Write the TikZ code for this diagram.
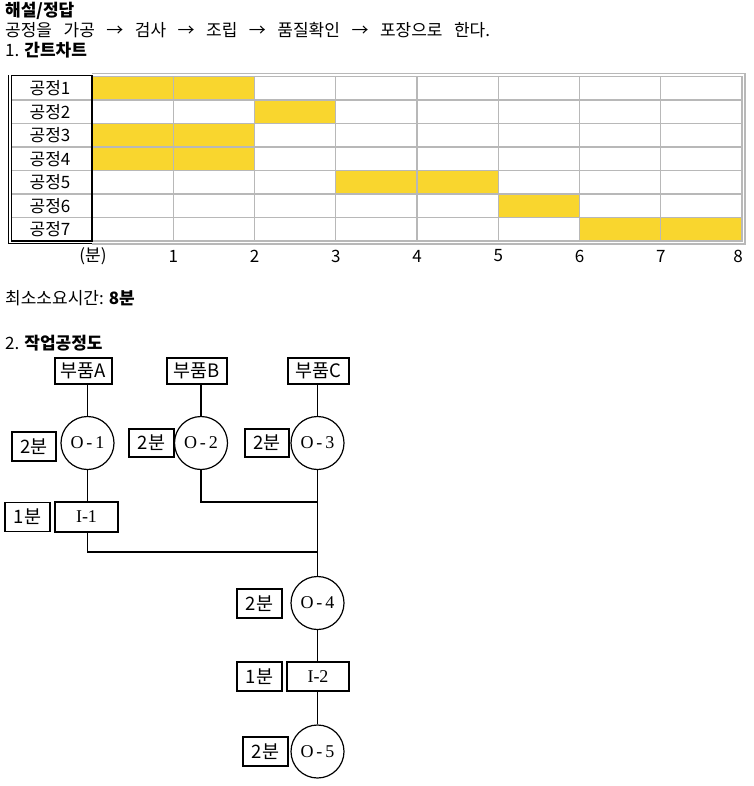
\documentclass[tikz,border=0pt]{standalone}
\usepackage{fontspec}
\setmainfont{Noto Sans CJK KR}
\newfontfamily\opfont{Liberation Serif}
\usetikzlibrary{positioning}
\definecolor{barfill}{RGB}{249,214,46}
\definecolor{gridgray}{RGB}{184,184,184}

\begin{document}
\begin{tikzpicture}[
    x=1pt, y=-1pt,
    font=\fontsize{17}{19}\selectfont,
    txt/.style={inner sep=0pt, anchor=west},
    part/.style={draw, line width=1.2pt, inner sep=0pt, minimum height=26pt,
      font=\fontsize{18.5}{19}\selectfont},
    op/.style={circle, draw, line width=1.2pt, minimum size=53pt, inner sep=0pt,
      font=\opfont\fontsize{18}{19}\selectfont},
    insp/.style={draw, line width=1.2pt, inner sep=0pt, minimum width=62pt, minimum height=29pt,
      font=\opfont\fontsize{18}{19}\selectfont},
    tbox/.style={draw, line width=1.2pt, inner sep=0pt, minimum width=45pt, minimum height=28pt,
      font=\fontsize{18.5}{19}\selectfont},
    link/.style={line width=1.2pt}
  ]
  \useasboundingbox (0,0) rectangle (753,786);

  % header
  \node[txt] (title) at (5,11) {\textbf{해설/정답}};
  \node[txt] (order) at (5,30) {\spaceskip=11.5pt 공정을 가공 → 검사 → 조립 → 품질확인 → 포장으로 한다.};
  \node[txt] (head1) at (5,50) {1. \textbf{간트차트}};

  % gantt bars
  \foreach \r/\c in {1/1,1/2,2/3,3/1,3/2,4/1,4/2,5/4,5/5,6/6,7/7,7/8}
    \fill[barfill] ({92+(\c-1)*81.25},{76.5+(\r-1)*23.5}) rectangle ++(81.25,23.5);

  % grid
  \foreach \r in {1,...,6}
    \draw[gridgray, line width=1.2pt] (12,{76.5+\r*23.5}) -- (742,{76.5+\r*23.5});
  \foreach \c in {1,...,7}
    \draw[gridgray, line width=1.2pt] ({92+\c*81.25},76.5) -- ({92+\c*81.25},241);
  \draw[gridgray, line width=1.2pt] (92,76.5) rectangle (742,241);
  \draw[gridgray, line width=1pt] (92,74) -- (745.5,74);
  \draw[gridgray, line width=2pt] (744.5,74) -- (744.5,243.5) -- (92,243.5);

  % label column
  \draw[line width=1.2pt] (11.5,75.5) rectangle (92,241);
  \draw[line width=1.5pt] (8.5,75.5) -- (8.5,243.5) -- (92,243.5);
  \foreach \r in {1,...,7}
    \node (step\r) at (50,{76.5+(\r-0.5)*23.5}) {공정\r};

  % time axis
  \node (unit) at (93,256) {(분)};
  \foreach \n in {1,...,7}
    \node (tick\n) at ({92+\n*81.25},256) {\n};
  \node (tick8) at (738,256) {8};

  \node[txt] (mintime) at (5,298) {최소소요시간: \textbf{8분}};
  \node[txt] (head2) at (5,343) {2. \textbf{작업공정도}};

  % process chart
  \node[part, minimum width=57pt] (partA) at (83.5,371) {부품A};
  \node[part, minimum width=60pt] (partB) at (197,371) {부품B};
  \node[part, minimum width=61pt] (partC) at (318.5,371) {부품C};

  \node[op] (op1) at (87.5,443) {O\,-\,1};
  \node[op] (op2) at (201,443) {O\,-\,2};
  \node[op] (op3) at (317.5,443) {O\,-\,3};
  \node[op] (op4) at (317.5,603) {O\,-\,4};
  \node[op] (op5) at (317.5,751.5) {O\,-\,5};

  \node[insp, minimum width=63pt, minimum height=30pt] (in1) at (86.5,517) {I-1};
  \node[insp] (in2) at (318,676.5) {I-2};

  \node[tbox, minimum width=44pt, minimum height=29pt] (t1) at (34,446.5) {2분};
  \node[tbox] (t2) at (151.5,443) {2분};
  \node[tbox, minimum width=44pt] (t3) at (267,443) {2분};
  \node[tbox, minimum height=29pt] (t4) at (259.5,603.5) {2분};
  \node[tbox, minimum height=29pt] (ti1) at (27.5,517) {1분};
  \node[tbox, minimum height=29pt] (ti2) at (259.5,676.5) {1분};
  \node[tbox, minimum height=29pt] (t5) at (265.5,751.5) {2분};

  \coordinate (j1) at (317.5,502);
  \coordinate (j2) at (317.5,552);

  \draw[link] (op1.north) -- (op1.north |- partA.south);
  \draw[link] (op2.north) -- (op2.north |- partB.south);
  \draw[link] (op3.north) -- (op3.north |- partC.south);
  \draw[link] (op1.south) -- (op1.south |- in1.north);
  \draw[link] (op2.south) |- (j1);
  \draw[link] (in1.south -| op1.south) |- (j2);
  \draw[link] (op3.south) -- (op4.north);
  \draw[link] (op4.south) -- (op4.south |- in2.north);
  \draw[link] (op5.north) -- (op5.north |- in2.south);
\end{tikzpicture}
\end{document}
